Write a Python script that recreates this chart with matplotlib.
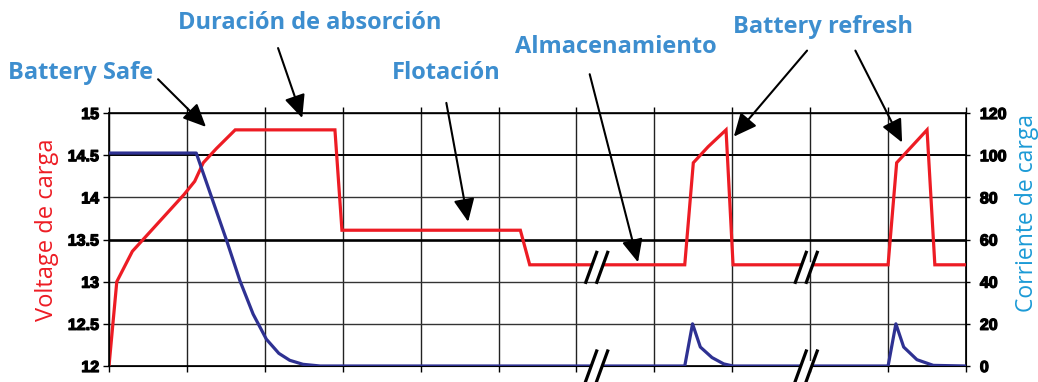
import matplotlib
matplotlib.use("Agg")
import matplotlib.pyplot as plt
from matplotlib.patches import Polygon
import matplotlib.patheffects as pe

# ---------------- data ----------------
volt_x = [0, 0.10, 0.30, 0.96, 1.10, 1.21, 1.38, 1.62, 2.90, 2.99, 5.28, 5.40,
          7.39, 7.50, 7.69, 7.92, 8.01, 10.00, 10.11, 10.28, 10.50, 10.60, 11.0]
volt_y = [12.0, 13.0, 13.36, 14.03, 14.19, 14.41, 14.58, 14.80, 14.80, 13.61, 13.61, 13.2,
          13.2, 14.41, 14.60, 14.80, 13.2, 13.2, 14.41, 14.58, 14.80, 13.2, 13.2]

curr_x = [0, 1.12, 1.51, 1.68, 1.85, 2.02, 2.18, 2.32, 2.49, 2.71,
          7.39, 7.49, 7.59, 7.74, 7.89, 8.01,
          10.00, 10.10, 10.20, 10.37, 10.58, 11.0]
curr_y = [101, 101, 59.5, 40.5, 24.6, 12.7, 6.0, 2.7, 0.8, 0,
          0, 20, 9, 4, 1, 0,
          0, 20, 9, 3, 0.3, 0]

volt_ticks = [12, 12.5, 13, 13.5, 14, 14.5, 15]
volt_labels = ["12", "12.5", "13", "13.5", "14", "14.5", "15"]
curr_ticks = [0, 20, 40, 60, 80, 100, 120]
curr_labels = ["0", "20", "40", "60", "80", "100", "120"]

break_x = [6.26, 8.95]

labels = ["Battery Safe", "Duración de absorción", "Flotación", "Almacenamiento", "Battery refresh"]
# (text centre in figure pixels from top-left)
label_pos = [(81, 73), (310, 23), (446, 73), (616, 47), (823, 27)]
# arrows: (start, tip) in data coords of the voltage axis
arrows = [((0.63, 15.40), (1.245, 14.835)),
          ((2.17, 15.77), (2.48, 14.94)),
          ((4.33, 15.12), (4.61, 13.71)),
          ((6.17, 15.46), (6.79, 13.23)),
          ((8.96, 15.74), (8.02, 14.72)),
          ((9.58, 15.74), (10.18, 14.65))]

RED = "#ed1c24"
NAVY = "#2e3192"
LBLUE = "#3d8ecf"

plt.rcParams["font.family"] = ["Liberation Sans", "DejaVu Sans"]
plt.rcParams["font.weight"] = "bold"
plt.rcParams["ytick.labelsize"] = 11.5

W, H = 1038, 382
fig = plt.figure(figsize=(W / 100, H / 100), dpi=100)
fig.patch.set_facecolor("white")

L, R, T, B = 109, 966, 113, 366
ax = fig.add_axes([L / W, (H - B) / H, (R - L) / W, (B - T) / H])
ax.set_xlim(0, 11)
ax.set_ylim(12, 15)

# grid
for i in range(12):
    ax.axvline(i, color="#222222", lw=1.0, zorder=1)
for v in volt_ticks:
    lw = 1.0
    col = "#333333"
    if v == 13.5:
        lw, col = 1.9, "black"
    elif v == 14.5:
        lw, col = 1.4, "black"
    ax.axhline(v, color=col, lw=lw, zorder=1)

ax.plot(volt_x, volt_y, color=RED, lw=2.3, zorder=3, solid_joinstyle="miter")

ax.tick_params(axis="x", which="both", top=True, bottom=True, direction="out",
               length=4, width=1, labelbottom=False, labeltop=False)
ax.tick_params(axis="y", direction="out", length=4, width=1, pad=3)
ax.set_xticks(range(12))
ax.set_yticks(volt_ticks, labels=volt_labels)
for s in ax.spines.values():
    s.set_color("black")
    s.set_linewidth(1.2)

ax2 = ax.twinx()
ax2.set_ylim(0, 120)
ax2.tick_params(axis="y", direction="out", length=3, width=1, pad=7)
ax2.set_yticks(curr_ticks, labels=curr_labels)
ax2.plot(curr_x, curr_y, color=NAVY, lw=2.3, zorder=3)

thick = [pe.withStroke(linewidth=0.9, foreground="black")]
for lab in list(ax.get_yticklabels()) + list(ax2.get_yticklabels()):
    lab.set_fontweight("bold")
    lab.set_path_effects(thick)

# axis titles
fig.text(47 / W, 1 - 230 / H, "Voltage de carga", rotation=90, ha="center", va="center",
         color=RED, fontsize=17, fontfamily="Open Sans", fontweight="normal")
fig.text(1027 / W, 1 - 213 / H, "Corriente de carga", rotation=90, ha="center", va="center",
         color="#1b9ad6", fontsize=16.5, fontfamily="Open Sans", fontweight="normal")

# break marks
dh = 16.5 / ((B - T) / 3.0)
dx = 6.0 / ((R - L) / 11.0)
sep = 11.0 / ((R - L) / 11.0)
for xc in break_x:
    for yc in (13.17, 12.0):
        xs = [xc - sep / 2, xc + sep / 2]
        h = 0.06
        k = dx / dh
        poly = Polygon([(xs[0] - k * h, yc - h), (xs[0] + k * h, yc + h),
                        (xs[1] + k * h, yc + h), (xs[1] - k * h, yc - h)],
                       closed=True, facecolor="white", edgecolor="none",
                       transform=ax.transData, zorder=5, clip_on=False)
        ax2.add_patch(poly)
        for x0 in xs:
            ax2.plot([x0 - dx, x0 + dx], [yc - dh, yc + dh], color="black", lw=2.3,
                     transform=ax.transData, zorder=6, clip_on=False,
                     solid_capstyle="butt")

# annotations
for txt, (px, py) in zip(labels, label_pos):
    fig.text(px / W, 1 - py / H, txt, ha="center", va="center", color=LBLUE,
             fontsize=17, fontweight="bold", fontfamily="Open Sans")
for start, tip in arrows:
    ax.annotate("", xy=tip, xytext=start, xycoords="data", textcoords="data",
                annotation_clip=False,
                arrowprops=dict(arrowstyle="-|>,head_length=0.7,head_width=0.32",
                                mutation_scale=20, lw=1.5, color="black",
                                shrinkA=0, shrinkB=0))

fig.savefig("out.png", dpi=100)
